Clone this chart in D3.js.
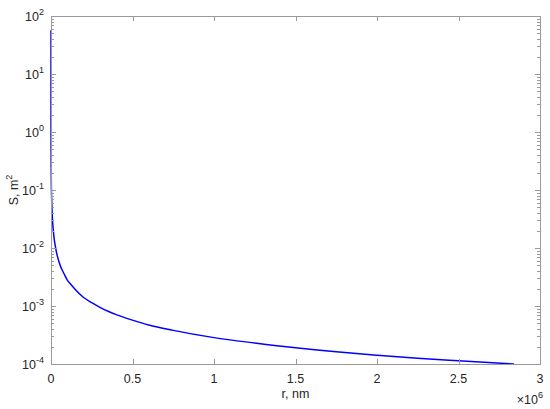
<!DOCTYPE html>
<html>
<head>
<meta charset="utf-8">
<script src="https://cdn.jsdelivr.net/npm/d3@7"></script>
<style>
  body { margin: 0; background: #fff; }
  svg text { font-family: "Liberation Sans", Arial, sans-serif; fill: #262626; }
</style>
</head>
<body>
<div id="chart"></div>
<script>
// radius r, nm  and area S, m^2
const radius = [5, 10, 20, 50, 100, 200, 500, 1000, 2000, 5000, 1e4, 1.5e4, 2e4, 2.5e4, 3e4, 4e4, 5e4, 6e4, 7e4, 8e4,
	1e5, 1.2e5, 1.5e5, 2e5, 2.5e5, 3e5, 3.5e5, 4e5, 5e5, 6e5, 7.5e5, 1e6, 1.25e6, 1.5e6, 1.75e6, 2e6, 2.25e6, 2.5e6, 2.84e6]
const area = [57, 28, 14, 5.7, 2.8, 1.4, 0.57, 0.28, 0.14, 0.057, 0.028, 0.019, 0.014, 0.0114, 0.0095, 0.0071, 0.0057, 0.0047, 0.0041, 0.0036,
	0.0028, 0.0024, 0.0019, 0.0014, 0.00114, 9.5e-4, 8.1e-4, 7.1e-4, 5.7e-4, 4.7e-4, 3.8e-4, 2.85e-4, 2.3e-4, 1.9e-4, 1.62e-4, 1.42e-4, 1.26e-4, 1.14e-4, 1.0e-4]

const xTicks = [0, 0.5e6, 1e6, 1.5e6, 2e6, 2.5e6, 3e6]
const yTickExps = [-4, -3, -2, -1, 0, 1, 2]

const width = 550, height = 409
const margin = { left: 51, right: 10, top: 16, bottom: 45 }
const axisColor = '#9a9a9a'

const svg = d3.select('#chart').append('svg')
	.attr('width', width)
	.attr('height', height)

const x = d3.scaleLinear()
	.domain([0, 3e6])
	.range([margin.left, width - margin.right])
const y = d3.scaleLog()
	.domain([1e-4, 1e2])
	.range([height - margin.bottom, margin.top])

const x0 = x.range()[0], x1 = x.range()[1]
const y0 = y.range()[0], y1 = y.range()[1]

// curve
const line = d3.line()
	.x((d, i) => x(radius[i]))
	.y((d) => y(d))
	.curve(d3.curveMonotoneX)

svg.append('path')
	.datum(area)
	.attr('fill', 'none')
	.attr('stroke', '#0000ff')
	.attr('stroke-width', 1.5)
	.attr('d', line)

// box
svg.append('rect')
	.attr('x', x0 + 0.5)
	.attr('y', y1 + 0.5)
	.attr('width', x1 - x0)
	.attr('height', y0 - y1)
	.attr('fill', 'none')
	.attr('stroke', axisColor)

// x ticks, bottom and top, pointing inward
const xt = svg.append('g')
xTicks.forEach((t) => {
	const px = Math.round(x(t)) + 0.5
	xt.append('line').attr('x1', px).attr('x2', px).attr('y1', y0).attr('y2', y0 - 5).attr('stroke', axisColor)
	xt.append('line').attr('x1', px).attr('x2', px).attr('y1', y1).attr('y2', y1 + 5).attr('stroke', axisColor)
	xt.append('text')
		.attr('x', x(t))
		.attr('y', y0 + 19)
		.attr('text-anchor', 'middle')
		.attr('font-size', '12.5px')
		.text(d3.format('')(t / 1e6))
})

// y ticks (log), major + minor on both sides
const yt = svg.append('g')
y.ticks().forEach((t) => {
	const major = yTickExps.some((e) => Math.abs(Math.log10(t) - e) < 1e-9)
	const len = major ? 5 : 3
	const py = Math.round(y(t)) + 0.5
	yt.append('line').attr('x1', x0).attr('x2', x0 + len).attr('y1', py).attr('y2', py).attr('stroke', axisColor)
	yt.append('line').attr('x1', x1).attr('x2', x1 - len).attr('y1', py).attr('y2', py).attr('stroke', axisColor)
})

yTickExps.forEach((e) => {
	const label = yt.append('text')
		.attr('x', x0 - 7)
		.attr('y', y(Math.pow(10, e)) + 5)
		.attr('text-anchor', 'end')
		.attr('font-size', '12.5px')
	label.append('tspan').text('10')
	label.append('tspan').attr('dy', -6).attr('font-size', '9px').text(e)
})

// axis labels
svg.append('text')
	.attr('x', (x0 + x1) / 2)
	.attr('y', y0 + 34)
	.attr('text-anchor', 'middle')
	.attr('font-size', '12.5px')
	.text('r, nm')

const yl = svg.append('text')
	.attr('transform', `translate(18,${(y0 + y1) / 2}) rotate(-90)`)
	.attr('text-anchor', 'middle')
	.attr('font-size', '12.5px')
yl.append('tspan').text('S, m')
yl.append('tspan').attr('dy', -6).attr('font-size', '9px').text('2')

// exponent multiplier
const mult = svg.append('text')
	.attr('x', x1 + 3)
	.attr('y', y0 + 40)
	.attr('text-anchor', 'end')
	.attr('font-size', '12.5px')
mult.append('tspan').text('\u00d710')
mult.append('tspan').attr('dy', -6).attr('font-size', '9px').text('6')
</script>
</body>
</html>
